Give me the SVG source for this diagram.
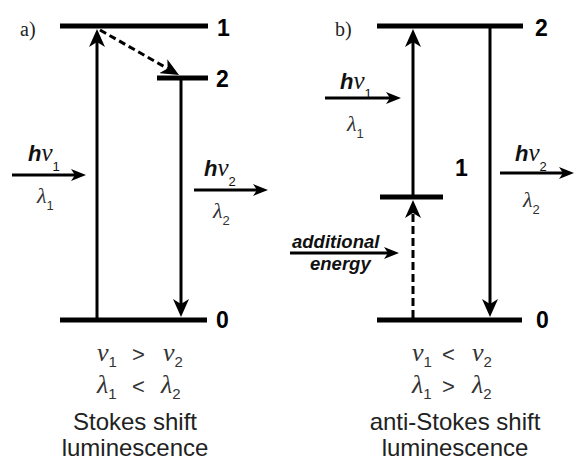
<svg xmlns="http://www.w3.org/2000/svg" width="574" height="464" viewBox="0 0 574 464">
<style>
.lvl{stroke:#000;stroke-width:5;fill:none}
.arr{stroke:#000;stroke-width:3;fill:none}
.dash{stroke-dasharray:7 4}
.lab{font-family:"Liberation Sans",Arial,sans-serif;font-weight:bold;font-size:23px;fill:#000}
.pl{font-family:"Liberation Serif","Times New Roman",serif;font-size:20px;fill:#222}
.h{font-family:"Liberation Sans",Arial,sans-serif;font-weight:bold;font-style:italic;font-size:22px;fill:#111}
.nu{font-family:"Liberation Serif","Times New Roman",serif;font-weight:normal;font-style:italic;font-size:25px}
.gr{font-family:"Liberation Serif","Times New Roman",serif;font-style:italic;font-size:22px;fill:#333}
.sub{font-family:"Liberation Sans",Arial,sans-serif;font-weight:normal;font-style:normal;font-size:13px}
.ae{font-family:"Liberation Sans",Arial,sans-serif;font-weight:bold;font-style:italic;font-size:18.5px;fill:#111}
.fm{font-family:"Liberation Serif","Times New Roman",serif;font-style:italic;font-size:26px;fill:#333}
.op{font-family:"Liberation Sans",Arial,sans-serif;font-size:22px;fill:#333}
.fs{font-family:"Liberation Sans",Arial,sans-serif;font-style:normal;font-size:15px;fill:#333}
.cap{font-family:"Liberation Sans",Arial,sans-serif;font-size:24px;fill:#222;text-anchor:middle}
</style>
<defs>
<marker id="hv" markerUnits="userSpaceOnUse" markerWidth="18" markerHeight="16" refX="5" refY="8" orient="auto" viewBox="0 0 18 16"><path d="M0,0 L18,8 L0,16 L5,8 z" fill="#000"/></marker>
<marker id="hh" markerUnits="userSpaceOnUse" markerWidth="15" markerHeight="12" refX="4" refY="6" orient="auto" viewBox="0 0 15 12"><path d="M0,0 L15,6 L0,12 L4,6 z" fill="#000"/></marker>
</defs>

<g id="panel-a">
<text class="pl" x="20" y="36">a)</text>
<g id="a-level1"><line class="lvl" x1="60" y1="26" x2="208" y2="26"/><text class="lab" x="217" y="36">1</text></g>
<g id="a-level2"><line class="lvl" x1="157" y1="78" x2="208" y2="78"/><text class="lab" x="216" y="87">2</text></g>
<g id="a-level0"><line class="lvl" x1="60" y1="320" x2="207" y2="320"/><text class="lab" x="216" y="328">0</text></g>
<g id="a-hv1">
<text class="h" x="28" y="161">h<tspan class="nu">ν</tspan><tspan class="sub" dy="10">1</tspan></text>
<text class="gr" x="37" y="203">λ<tspan class="sub" dy="7">1</tspan></text>
</g>
<g id="a-hv2">
<text class="h" x="204" y="176">h<tspan class="nu">ν</tspan><tspan class="sub" dy="10">2</tspan></text>
<text class="gr" x="213" y="218">λ<tspan class="sub" dy="7">2</tspan></text>
</g>
<g id="a-relations">
<text class="fm" x="97" y="361">ν<tspan class="fs" dy="6">1</tspan></text>
<text class="op" x="132" y="362">&gt;</text>
<text class="fm" x="163" y="361">ν<tspan class="fs" dy="6">2</tspan></text>
<text class="fm" x="97" y="393">λ<tspan class="fs" dy="6">1</tspan></text>
<text class="op" x="132" y="394">&lt;</text>
<text class="fm" x="161" y="393">λ<tspan class="fs" dy="6">2</tspan></text>
<text class="cap" x="135" y="430">Stokes shift</text>
<text class="cap" x="135" y="456">luminescence</text>
</g>
</g>

<g id="panel-b">
<text class="pl" x="335" y="36">b)</text>
<g id="b-level2"><line class="lvl" x1="377" y1="26" x2="523" y2="26"/><text class="lab" x="535" y="36">2</text></g>
<g id="b-level1"><line class="lvl" x1="380" y1="197" x2="443" y2="197"/><text class="lab" x="455" y="176">1</text></g>
<g id="b-level0"><line class="lvl" x1="377" y1="320" x2="522" y2="320"/><text class="lab" x="536" y="328">0</text></g>
<g id="b-hv1">
<text class="h" x="340" y="89">h<tspan class="nu">ν</tspan><tspan class="sub" dy="9">1</tspan></text>
<text class="gr" x="347" y="131">λ<tspan class="sub" dy="7">1</tspan></text>
</g>
<g id="b-hv2">
<text class="h" x="515" y="161">h<tspan class="nu">ν</tspan><tspan class="sub" dy="10">2</tspan></text>
<text class="gr" x="523" y="207">λ<tspan class="sub" dy="7">2</tspan></text>
</g>
<g id="b-energy">
<text class="ae" x="292" y="248">additional</text>
<text class="ae" x="310" y="270">energy</text>
</g>
<g id="b-relations">
<text class="fm" x="412" y="361">ν<tspan class="fs" dy="6">1</tspan></text>
<text class="op" x="442" y="362">&lt;</text>
<text class="fm" x="472" y="361">ν<tspan class="fs" dy="6">2</tspan></text>
<text class="fm" x="412" y="393">λ<tspan class="fs" dy="6">1</tspan></text>
<text class="op" x="442" y="394">&gt;</text>
<text class="fm" x="472" y="393">λ<tspan class="fs" dy="6">2</tspan></text>
<text class="cap" x="455" y="430">anti-Stokes shift</text>
<text class="cap" x="455" y="456">luminescence</text>
</g>
</g>

<g id="connectors">
<line class="arr" x1="97" y1="318" x2="97" y2="42" marker-end="url(#hv)"/>
<line class="arr dash" x1="100" y1="30" x2="167.7" y2="68.6" marker-end="url(#hv)"/>
<line class="arr" x1="181" y1="80" x2="181" y2="304" marker-end="url(#hv)"/>
<line class="arr" x1="12" y1="175" x2="75" y2="175" marker-end="url(#hh)"/>
<line class="arr" x1="194" y1="190" x2="257" y2="190" marker-end="url(#hh)"/>
<line class="arr" x1="413" y1="195" x2="413" y2="42" marker-end="url(#hv)"/>
<line class="arr" x1="413" y1="318" x2="413" y2="213" stroke-dasharray="8 4" marker-end="url(#hv)"/>
<line class="arr" x1="490" y1="28" x2="490" y2="304" marker-end="url(#hv)"/>
<line class="arr" x1="325" y1="98" x2="390" y2="98" marker-end="url(#hh)"/>
<line class="arr" x1="500" y1="173" x2="563" y2="173" marker-end="url(#hh)"/>
<line class="arr" x1="290" y1="253" x2="388" y2="253" marker-end="url(#hh)"/>
</g>
</svg>
